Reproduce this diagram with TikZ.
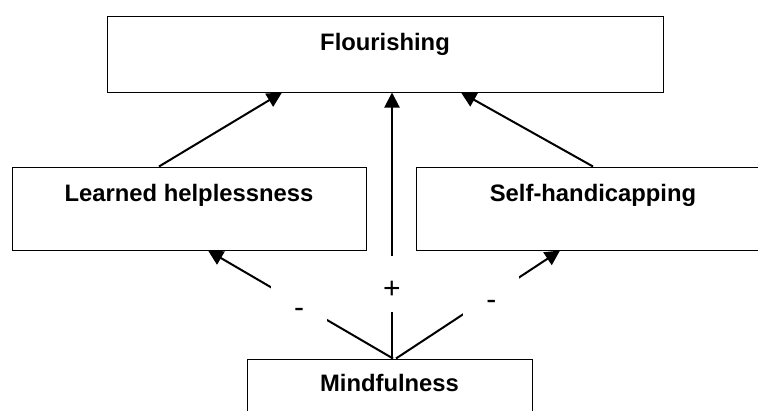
\documentclass[tikz,border=0pt]{standalone}
\usepackage{fontspec}
\setmainfont{Liberation Sans}
\usetikzlibrary{positioning,arrows.meta}

\begin{document}
\begin{tikzpicture}[x=1pt,y=1pt,node distance=2cm,on grid,
  box/.style={draw,line width=1pt,inner sep=0pt,font=\fontsize{23.8}{28}\selectfont\bfseries},
  sign/.style={fill=white,inner sep=0pt,minimum width=56pt,minimum height=56pt,
    text height=30pt,text depth=2pt,font=\fontsize{30}{30}\selectfont}]
\useasboundingbox (0,0) rectangle (758,-410);
\clip (0,0) rectangle (758,-410);

\node[box, minimum width=556pt, text height=34.5pt, text depth=41.5pt] (flour) at (385,-54) {Flourishing};
\node[box, minimum width=354pt, text height=34.5pt, text depth=48.5pt] (helpless) [below left=154.5pt and 196pt of flour] {Learned helplessness};
\node[box, minimum width=354pt, text height=34.5pt, text depth=48.5pt] (handicap) [below right=154.5pt and 208pt of flour] {Self-handicapping};
\node[box, minimum width=285pt, text height=32.5pt, text depth=47.5pt] (mind) [below=345pt of flour, xshift=4.5pt] {Mindfulness};

\path[-{Triangle[length=15pt,width=15pt]},line width=2pt]
([xshift=-30pt]helpless.north) edge ([xshift=-103pt]flour.south)
(handicap.north) edge ([xshift=76pt]flour.south)
([xshift=2.5pt]mind.north) edge node[sign,pos=0.28] {+} ([xshift=7pt]flour.south)
([xshift=3.5pt]mind.north) edge node[sign,pos=0.508] {-} ([xshift=19pt]helpless.south)
([xshift=6.5pt]mind.north) edge node[sign,pos=0.582] {-} ([xshift=-33pt]handicap.south)
; %end path
\end{tikzpicture}
\end{document}
